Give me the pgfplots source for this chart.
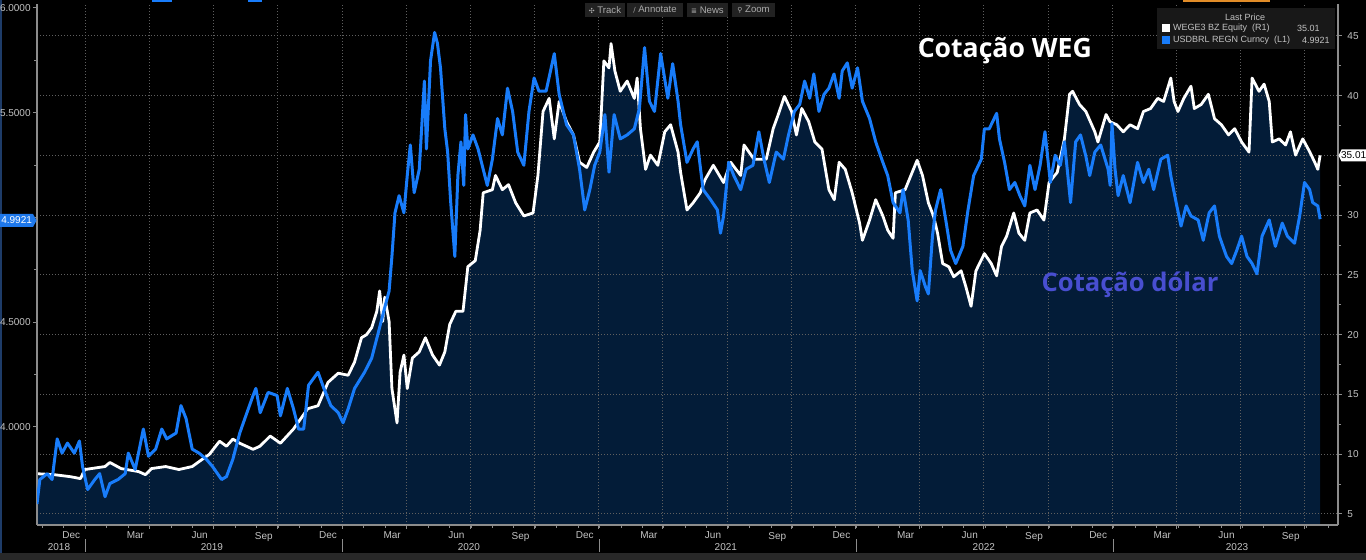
\documentclass[border=0pt]{standalone}
\usepackage{fontspec}
\setmainfont{Liberation Sans}
\newfontfamily\opensans{Open Sans}
\newfontfamily\dejavu{DejaVu Sans}
\usepackage{pgfplots}
\usepackage{pgfplotstable}
\pgfplotsset{compat=1.18}
\definecolor{navyfill}{RGB}{3,28,56}
\definecolor{usdblue}{RGB}{24,124,250}
\definecolor{gridgray}{RGB}{95,95,95}
\definecolor{axisgray}{RGB}{140,140,140}
\definecolor{ticklab}{RGB}{195,195,195}
\definecolor{tagblue}{RGB}{30,120,235}
\definecolor{annblue}{RGB}{72,78,208}
\definecolor{legbg}{RGB}{24,24,24}
\definecolor{toolbg}{RGB}{34,34,34}
\definecolor{tooltext}{RGB}{170,170,170}
\definecolor{bandgray}{RGB}{40,40,40}
\definecolor{edgeblue}{RGB}{30,60,105}
\definecolor{toporange}{RGB}{225,140,40}
\newcommand{\tickfont}{\fontsize{5}{6}\selectfont}
\newcommand{\legfont}{\fontsize{4.5}{5}\selectfont}

\pgfplotstableread{
x y
2018.813 8.37
2018.880 8.29
2018.944 8.12
2018.983 7.96
2019.000 8.72
2019.079 8.97
2019.098 9.31
2019.142 8.80
2019.210 8.55
2019.237 8.29
2019.261 8.80
2019.316 8.97
2019.368 8.72
2019.420 8.97
2019.459 9.57
2019.487 9.99
2019.527 11.09
2019.554 10.67
2019.579 11.27
2019.606 10.92
2019.658 10.41
2019.685 10.67
2019.725 11.52
2019.765 10.92
2019.816 12.11
2019.872 13.81
2019.912 14.06
2019.951 16.01
2019.991 16.78
2020.030 16.61
2020.055 17.72
2020.082 19.75
2020.102 20.01
2020.122 20.60
2020.142 21.96
2020.153 23.66
2020.165 21.11
2020.173 23.14
2020.190 21.11
2020.201 15.50
2020.221 12.62
2020.233 16.86
2020.248 18.30
2020.261 15.50
2020.281 18.05
2020.308 18.57
2020.332 19.75
2020.360 18.30
2020.387 17.46
2020.408 18.57
2020.427 20.86
2020.451 21.96
2020.479 21.96
2020.498 25.70
2020.527 26.20
2020.546 28.74
2020.558 31.88
2020.594 32.14
2020.606 33.33
2020.633 32.14
2020.657 32.56
2020.685 31.04
2020.717 29.94
2020.753 30.19
2020.772 33.33
2020.792 38.68
2020.816 39.78
2020.836 36.39
2020.855 39.52
2020.884 37.83
2020.911 36.72
2020.935 34.43
2020.963 34.00
2020.990 35.28
2021.014 36.13
2021.030 42.92
2021.050 42.33
2021.058 44.36
2021.073 42.08
2021.094 40.37
2021.121 41.23
2021.149 39.78
2021.160 41.48
2021.173 37.24
2021.193 33.84
2021.212 35.03
2021.241 34.18
2021.268 36.98
2021.291 37.57
2021.320 35.28
2021.330 33.59
2021.355 30.44
2021.379 31.04
2021.407 31.88
2021.426 32.99
2021.458 34.18
2021.498 32.74
2021.526 34.43
2021.565 33.33
2021.578 35.88
2021.617 34.69
2021.644 34.69
2021.665 34.69
2021.692 37.24
2021.712 38.43
2021.736 39.95
2021.764 38.68
2021.783 36.72
2021.804 38.93
2021.831 37.83
2021.855 36.13
2021.883 35.53
2021.910 32.14
2021.931 31.30
2021.950 34.43
2021.974 33.84
2022.001 31.88
2022.030 29.34
2022.041 27.90
2022.069 29.59
2022.093 31.30
2022.121 29.94
2022.140 28.75
2022.161 28.07
2022.170 31.88
2022.208 32.14
2022.255 34.60
2022.276 33.33
2022.299 31.04
2022.319 29.94
2022.335 28.50
2022.355 25.95
2022.379 25.69
2022.398 24.85
2022.427 25.35
2022.446 23.99
2022.466 22.38
2022.485 25.35
2022.518 26.79
2022.545 25.95
2022.566 24.93
2022.585 27.39
2022.605 28.24
2022.633 30.19
2022.653 28.50
2022.676 27.90
2022.696 30.19
2022.724 30.44
2022.751 29.59
2022.771 32.74
2022.803 33.59
2022.831 36.39
2022.851 40.12
2022.863 40.37
2022.890 39.27
2022.915 38.68
2022.950 36.98
2022.962 36.13
2022.994 38.43
2023.009 37.83
2023.036 37.57
2023.061 36.98
2023.088 37.57
2023.117 37.24
2023.140 38.68
2023.168 38.93
2023.196 39.78
2023.219 39.52
2023.247 41.48
2023.260 39.52
2023.275 38.68
2023.298 39.78
2023.326 40.80
2023.339 38.93
2023.366 39.27
2023.394 40.12
2023.418 38.08
2023.445 37.57
2023.473 36.72
2023.497 37.24
2023.524 36.13
2023.553 35.28
2023.565 41.48
2023.592 40.37
2023.612 40.97
2023.632 39.52
2023.644 36.13
2023.671 36.39
2023.696 35.88
2023.715 36.98
2023.735 35.03
2023.763 36.39
2023.791 35.28
2023.810 34.43
2023.822 33.84
2023.831 35.01
}\weg

\pgfplotstableread{
x y
2018.813 3.632
2018.824 3.749
2018.853 3.777
2018.872 3.749
2018.892 3.943
2018.911 3.875
2018.932 3.923
2018.959 3.875
2018.979 3.933
2018.991 3.812
2019.011 3.701
2019.039 3.749
2019.058 3.777
2019.079 3.667
2019.098 3.730
2019.130 3.749
2019.158 3.777
2019.170 3.875
2019.197 3.797
2019.229 3.990
2019.249 3.860
2019.277 3.894
2019.301 3.990
2019.320 3.943
2019.357 3.971
2019.376 4.102
2019.396 4.040
2019.420 3.894
2019.447 3.875
2019.475 3.846
2019.499 3.812
2019.535 3.749
2019.554 3.763
2019.579 3.846
2019.606 3.971
2019.634 4.068
2019.658 4.150
2019.669 4.184
2019.686 4.068
2019.717 4.165
2019.752 4.150
2019.765 4.053
2019.792 4.184
2019.816 4.087
2019.836 3.990
2019.856 3.990
2019.875 4.199
2019.912 4.261
2019.935 4.184
2019.962 4.102
2019.991 4.068
2020.010 4.020
2020.030 4.087
2020.055 4.184
2020.094 4.261
2020.122 4.329
2020.149 4.456
2020.169 4.552
2020.190 4.649
2020.201 4.814
2020.213 5.022
2020.229 5.104
2020.248 5.022
2020.261 5.200
2020.273 5.346
2020.288 5.118
2020.308 5.230
2020.328 5.651
2020.336 5.327
2020.352 5.748
2020.368 5.883
2020.379 5.831
2020.391 5.714
2020.408 5.423
2020.419 5.312
2020.431 5.071
2020.447 4.814
2020.459 5.200
2020.471 5.361
2020.482 5.153
2020.489 5.491
2020.498 5.327
2020.518 5.394
2020.538 5.327
2020.558 5.230
2020.574 5.153
2020.594 5.278
2020.614 5.472
2020.633 5.394
2020.653 5.617
2020.673 5.506
2020.693 5.312
2020.717 5.249
2020.737 5.506
2020.757 5.666
2020.776 5.603
2020.804 5.603
2020.836 5.782
2020.855 5.588
2020.884 5.443
2020.911 5.394
2020.935 5.230
2020.955 5.036
2020.975 5.133
2020.994 5.249
2021.014 5.312
2021.034 5.491
2021.050 5.216
2021.070 5.491
2021.094 5.375
2021.121 5.394
2021.149 5.423
2021.169 5.521
2021.189 5.811
2021.208 5.555
2021.228 5.506
2021.252 5.782
2021.280 5.569
2021.299 5.734
2021.320 5.555
2021.330 5.443
2021.355 5.263
2021.379 5.327
2021.395 5.361
2021.418 5.133
2021.447 5.085
2021.474 5.036
2021.486 4.925
2021.498 5.007
2021.518 5.263
2021.538 5.200
2021.565 5.133
2021.586 5.230
2021.613 5.249
2021.636 5.409
2021.656 5.278
2021.677 5.167
2021.704 5.312
2021.732 5.278
2021.752 5.394
2021.775 5.506
2021.796 5.540
2021.815 5.651
2021.835 5.569
2021.851 5.685
2021.871 5.506
2021.891 5.588
2021.910 5.617
2021.930 5.685
2021.950 5.569
2021.962 5.699
2021.982 5.738
2022.001 5.617
2022.022 5.714
2022.041 5.555
2022.069 5.472
2022.093 5.361
2022.121 5.263
2022.140 5.200
2022.161 5.071
2022.188 5.022
2022.200 5.133
2022.220 4.988
2022.236 4.746
2022.255 4.602
2022.267 4.746
2022.288 4.668
2022.299 4.635
2022.315 4.911
2022.327 5.036
2022.347 5.133
2022.367 4.988
2022.386 4.843
2022.406 4.780
2022.434 4.862
2022.454 5.036
2022.476 5.200
2022.506 5.278
2022.518 5.423
2022.537 5.423
2022.566 5.497
2022.577 5.375
2022.597 5.263
2022.616 5.133
2022.637 5.167
2022.657 5.104
2022.676 5.055
2022.696 5.249
2022.716 5.133
2022.736 5.249
2022.755 5.409
2022.776 5.167
2022.795 5.297
2022.815 5.249
2022.831 5.361
2022.842 5.230
2022.855 5.071
2022.875 5.361
2022.894 5.394
2022.914 5.297
2022.930 5.200
2022.950 5.312
2022.973 5.346
2023.002 5.230
2023.010 5.153
2023.017 5.448
2023.029 5.230
2023.041 5.104
2023.061 5.200
2023.088 5.071
2023.117 5.263
2023.140 5.167
2023.161 5.230
2023.180 5.133
2023.208 5.278
2023.235 5.297
2023.247 5.200
2023.268 5.071
2023.287 4.959
2023.307 5.055
2023.326 5.007
2023.354 4.988
2023.374 4.891
2023.397 5.022
2023.418 5.055
2023.437 4.911
2023.465 4.814
2023.485 4.780
2023.505 4.843
2023.524 4.911
2023.545 4.814
2023.565 4.780
2023.584 4.731
2023.604 4.911
2023.632 4.988
2023.656 4.862
2023.683 4.973
2023.703 4.911
2023.731 4.877
2023.751 5.007
2023.770 5.167
2023.790 5.133
2023.802 5.071
2023.822 5.055
2023.831 4.9921
}\usd

\pgfplotsset{
  bbaxis/.style={
    at={(18.5pt,17.5pt)}, anchor=south west, scale only axis,
    width=650.5pt, height=260.5pt,
    xmin=2018.813, xmax=2023.901,
    /pgf/number format/assume math mode=true,
    tick label style={font=\tickfont, text=ticklab},
  }
}

\begin{document}
\begin{tikzpicture}
\useasboundingbox (0,0) rectangle (683pt,280pt);
\fill[black] (0,0) rectangle (683pt,280pt);
\fill[bandgray] (0,0) rectangle (683pt,3.5pt);
\fill[edgeblue] (0,3.5pt) rectangle (1pt,280pt);
\fill[usdblue] (76pt,279.2pt) rectangle (86pt,280pt);
\fill[usdblue] (124pt,279.2pt) rectangle (131pt,280pt);
\fill[toporange] (591.5pt,279.2pt) rectangle (635pt,280pt);

% WEG area, grid, right axis, month labels
\begin{axis}[bbaxis,
  ymin=4.079, ymax=47.678,
  axis on top,
  axis x line*=bottom, axis y line*=right,
  axis line style={draw=axisgray, line width=0.6pt, -},
  xtick={2019.002,2019.2531,...,2023.8}, xticklabels={},
  minor xtick={2018.8346,2018.9183,...,2023.90},
  extra x ticks={2018.947,2019.198,...,2023.75},
  extra x tick labels={Dec,Mar,Jun,Sep,Dec,Mar,Jun,Sep,Dec,Mar,Jun,Sep,Dec,Mar,Jun,Sep,Dec,Mar,Jun,Sep},
  extra x tick style={grid=none, major tick length=0pt, xticklabel style={yshift=0pt}},
  xmajorgrids, ymajorgrids,
  major grid style={draw=gridgray, line width=0.5pt, dash pattern=on 0.5pt off 1pt},
  ytick={5,10,15,20,25,30,35,40,45}, yticklabels={5,10,15,20,25,30,,40,45},
  minor y tick num=1,
  tick align=outside,
  major tick length=2pt, minor tick length=1.5pt,
  every tick/.style={draw=axisgray, line width=0.5pt},
  yticklabel style={xshift=-0.8pt},
]
\addplot[fill=navyfill, draw=none] table {\weg} \closedcycle;
\end{axis}

% WEG line
\begin{axis}[bbaxis, ymin=4.079, ymax=47.678, hide axis]
\addplot[white, line width=1.4pt, line join=round] table {\weg};
\end{axis}

% USD line and left axis, year labels
\begin{axis}[bbaxis,
  ymin=3.532, ymax=6.019,
  axis x line*=bottom, axis y line*=left,
  x axis line style={draw=none},
  y axis line style={draw=axisgray, line width=0.6pt, -},
  ytick={4,4.5,5,5.5,6}, yticklabels={4.0000,4.5000,,5.5000,6.0000},
  yticklabel style={inner sep=0pt, xshift=-1pt},
  minor y tick num=1,
  tick align=outside,
  major tick length=2pt, minor tick length=1.5pt,
  every tick/.style={draw=axisgray, line width=0.5pt},
  xtick={2018.899,2019.497,2020.502,2021.507,2022.516,2023.506},
  xticklabels={2018,2019,2020,2021,2022,2023},
  xtick style={draw=none},
  xticklabel style={yshift=-3.5pt},
]
\addplot[usdblue, line width=1.5pt, line join=round] table {\usd};
\end{axis}

% year separators
\foreach \sx in {42.7,171.15,299.65,428.1,556.55}
  \draw[axisgray, line width=0.5pt] (\sx pt,4pt) -- (\sx pt,10.5pt);

% price tags
\fill[tagblue] (0,166.5pt) -- (16.5pt,166.5pt) -- (18.3pt,169.75pt) -- (16.5pt,173pt) -- (0,173pt) -- cycle;
\node[text=white, font=\tickfont, inner sep=0pt] at (8.3pt,169.75pt) {4.9921};
\fill[white] (669.3pt,202.25pt) -- (670.8pt,205.25pt) -- (683pt,205.25pt) -- (683pt,199.25pt) -- (670.8pt,199.25pt) -- cycle;
\node[text=black, font=\tickfont, inner sep=0pt] at (676.8pt,202.25pt) {35.01};

% toolbar
\fill[toolbg] (292.5pt,271.5pt) rectangle (312.5pt,278.5pt);
\fill[toolbg] (313.5pt,271.5pt) rectangle (341.5pt,278.5pt);
\fill[toolbg] (343.5pt,271.5pt) rectangle (364pt,278.5pt);
\fill[toolbg] (366pt,271.5pt) rectangle (387.5pt,278.5pt);
\node[text=tooltext, font=\fontsize{4.8}{5}\selectfont, inner sep=0pt] at (302.5pt,275pt) {{\dejavu\fontsize{3.5}{4}\selectfont ✣}\ Track};
\node[text=tooltext, font=\fontsize{4.8}{5}\selectfont, inner sep=0pt] at (327.5pt,275pt) {{\dejavu\fontsize{3.5}{4}\selectfont ∕}\ Annotate};
\node[text=tooltext, font=\fontsize{4.8}{5}\selectfont, inner sep=0pt] at (353.75pt,275pt) {{\dejavu\fontsize{3.5}{4}\selectfont ≣}\ News};
\node[text=tooltext, font=\fontsize{4.8}{5}\selectfont, inner sep=0pt] at (376.75pt,275pt) {{\dejavu\fontsize{3.5}{4}\selectfont ⚲}\ Zoom};

% legend
\fill[legbg] (578.5pt,255.5pt) rectangle (667.5pt,275.75pt);
\node[text=ticklab, font=\legfont, inner sep=0pt] at (622.5pt,271.5pt) {Last Price};
\fill[white] (581pt,264pt) rectangle (585pt,268pt);
\fill[usdblue] (581pt,258pt) rectangle (585pt,262pt);
\node[text=ticklab, font=\legfont, inner sep=0pt, anchor=west] at (586.3pt,266pt) {WEGE3 BZ Equity\ \ (R1)};
\node[text=ticklab, font=\legfont, inner sep=0pt, anchor=west] at (586.3pt,260pt) {USDBRL REGN Curncy\ \ (L1)};
\node[text=ticklab, font=\legfont, inner sep=0pt, anchor=east] at (660pt,266pt) {35.01};
\node[text=ticklab, font=\legfont, inner sep=0pt, anchor=east] at (665pt,260pt) {4.9921};

% annotations
\node[text=white, font=\opensans\bfseries\fontsize{13.3}{14}\selectfont, inner sep=0pt, anchor=base] at (502.4pt,251pt) {Cotação WEG};
\node[text=annblue, font=\opensans\bfseries\fontsize{12.8}{14}\selectfont, inner sep=0pt, anchor=base] at (565pt,134pt) {Cotação dólar};
\end{tikzpicture}
\end{document}
